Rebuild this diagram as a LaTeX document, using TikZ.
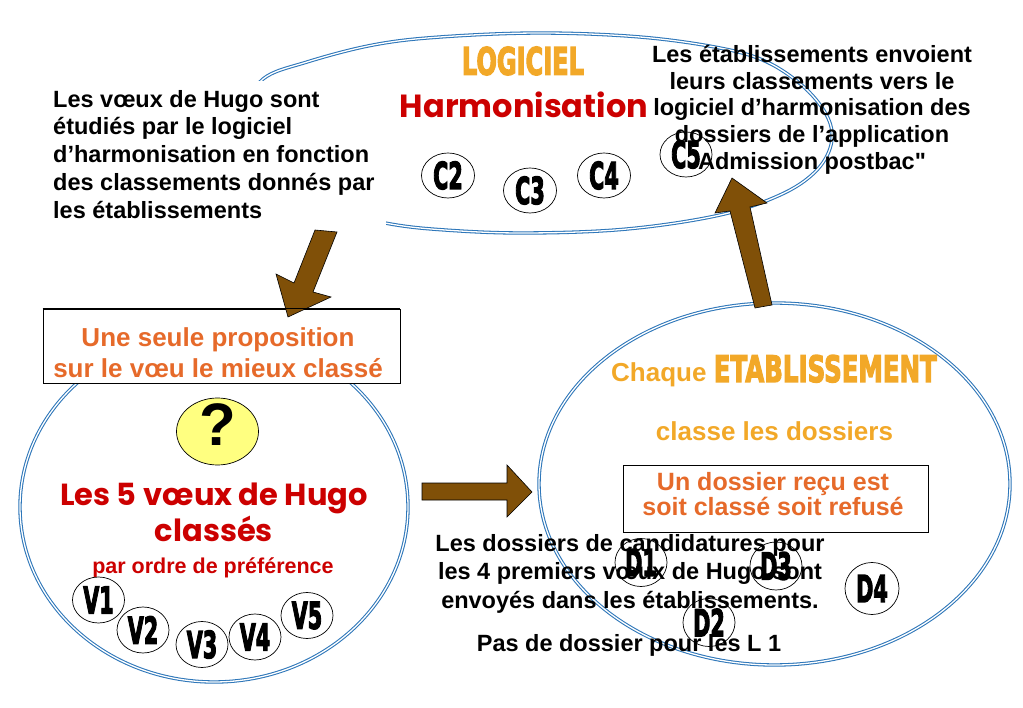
\documentclass[tikz,border=0pt]{standalone}
\usepackage{fontspec}
\usepackage{graphicx}
\setmainfont{Liberation Sans}
\newfontfamily\gothic{Poppins}
\newfontfamily\heavy{DejaVu Sans}[BoldFeatures={FakeBold=4}]
\usetikzlibrary{shapes.geometric}
\definecolor{ellblue}{RGB}{45,118,185}
\definecolor{arrowbrown}{RGB}{128,80,8}
\definecolor{orangeA}{RGB}{230,106,42}
\definecolor{goldY}{RGB}{242,168,40}
\definecolor{redH}{RGB}{204,0,0}
\definecolor{yellowQ}{RGB}{255,255,128}
\newcommand\imp[1]{\scalebox{0.56}[1]{\heavy\bfseries #1}}
\newcommand\straightquote{{\addfontfeatures{Ligatures=TeXOff}"}}
\tikzset{
  dbl/.style={draw=ellblue, line width=1.05pt, double=white, double distance=1.3pt},
  bigell/.style={ellipse, dbl, inner sep=0pt},
  blockarrow/.style={fill=arrowbrown, draw=black, line width=0.6pt, line join=miter},
  tag/.style={ellipse, draw=black, line width=0.7pt, fill=white, minimum width=52pt,
    minimum height=46pt, inner sep=0pt, font=\fontsize{37}{37}\selectfont},
  blacktxt/.style={inner sep=0pt, text=black},
  bodyfont/.style={font=\fontsize{23.5}{27.75}\selectfont\bfseries},
  orangetxt/.style={inner sep=0pt, text=orangeA, font=\fontsize{26}{31}\selectfont\bfseries},
  goldtxt/.style={inner sep=0pt, text=goldY, font=\fontsize{26}{31}\selectfont\bfseries},
  framebox/.style={draw=black, line width=0.7pt, fill=white, inner sep=0pt},
}
\begin{document}
\begin{tikzpicture}[x=1pt, y=-1pt]
\useasboundingbox (0,0) rectangle (1023,708);
\fill[white] (0,0) rectangle (1023,708);

% top ellipse (logiciel)
\draw[dbl] plot[smooth cycle, tension=0.6] coordinates {
  (246,112) (263,79) (307,62) (373,45) (440,37) (540,33) (640,37) (720,48)
  (767,62) (805,88) (828,118) (831,145) (815,172) (780,195) (720,215)
  (627,229) (527,233) (445,230) (385,223) (310,205) (262,172) (244,142)};

% white text box over the left of the top ellipse
\fill[white] (40,81) rectangle (386,232);
\node[blacktxt, bodyfont, align=left, anchor=north west] (hugotxt) at (53,90)
  {Les vœux de Hugo sont\\étudiés par le logiciel\\d’harmonisation en fonction\\des classements donnés par\\les établissements};

% left and right ellipses
\node[bigell, minimum width=388pt, minimum height=350pt] (voeux) at (214,507) {};
\node[bigell, minimum width=471pt, minimum height=362pt] (etab) at (774.5,484) {};

% box: une seule proposition
\node[framebox, minimum width=357pt, minimum height=74pt] (propbox) at (221.5,346) {};
\node[orangetxt, align=center, anchor=north] (proptxt) at (218,327.5)
  {Une seule proposition\\sur le vœu le mieux classé};

% block arrows
\filldraw[blockarrow] (315,230) -- (337,232) -- (313,292) -- (331,297) -- (288,317) -- (276,274) -- (294,283) -- cycle;
\draw[line width=0.7pt] (propbox.north west) -- (propbox.north east);
\filldraw[blockarrow] (755,308) -- (772,305) -- (750,207) -- (767,203) -- (732,178) -- (715,213) -- (730,211) -- cycle;
\filldraw[blockarrow] (422,483) -- (507,483) -- (507,465) -- (532,492) -- (507,517) -- (507,500) -- (422,500) -- cycle;

% logiciel titles
\node[inner sep=0pt, text=goldY] (logi) at (523,61) {\resizebox{122pt}{28pt}{\heavy\bfseries LOGICIEL}};
\node[inner sep=0pt, text=redH, anchor=base] (harmo) at (524,118) {\resizebox{248pt}{!}{\gothic\bfseries Harmonisation}};

% C tags
\node[tag, minimum width=53pt, minimum height=45pt] (c2) at (448,175.5) {\imp{C2}};
\node[tag, minimum width=53pt, minimum height=45pt] (c3) at (530,190.5) {\imp{C3}};
\node[tag, minimum width=53pt, minimum height=45pt] (c4) at (604,175.5) {\imp{C4}};
\node[tag, minimum width=52pt, minimum height=45pt] (c5) at (686,154.5) {\imp{C5}};

% top right text
\node[blacktxt, font=\fontsize{23.5}{26.7}\selectfont\bfseries, align=center, anchor=north] (envtxt) at (812,45)
  {Les établissements envoient\\leurs classements vers le\\logiciel d’harmonisation des\\dossiers de l’application\\Admission postbac\straightquote};

% question ball
\node[ellipse, draw=black, line width=0.7pt, fill=yellowQ, minimum width=82pt, minimum height=67pt, inner sep=0pt] (q) at (217.5,431.5) {};
\node[inner sep=0pt, font=\fontsize{60}{60}\selectfont\bfseries] (qmark) at (218,425) {?};

% left ellipse texts
\node[inner sep=0pt, text=redH, anchor=base, font=\fontsize{30.5}{36}\gothic\bfseries] (v5txt) at (214,505) {Les 5 vœux de Hugo};
\node[inner sep=0pt, text=redH, anchor=base, font=\fontsize{30.5}{36}\gothic\bfseries] (classes) at (214,541) {classés};
\node[inner sep=0pt, text=redH, anchor=base, font=\fontsize{21.5}{26}\selectfont\bfseries] (ordre) at (213,573) {par ordre de préférence};

% V tags
\node[tag] (v1) at (98.5,600) {\imp{V1}};
\node[tag] (v2) at (143,630) {\imp{V2}};
\node[tag] (v3) at (202,644.5) {\imp{V3}};
\node[tag] (v4) at (255,637) {\imp{V4}};
\node[tag] (v5) at (307,615.5) {\imp{V5}};

% right ellipse texts
\node[goldtxt, anchor=base west] (chaque) at (611,382)
  {Chaque \resizebox{223pt}{27pt}{\heavy\bfseries ETABLISSEMENT}};
\node[goldtxt, anchor=base] (classe) at (774.5,441) {classe les dossiers};
\node[framebox, minimum width=305pt, minimum height=67pt] (recubox) at (775.5,498.5) {};
\node[orangetxt, font=\fontsize{25}{22.5}\selectfont\bfseries, align=center, anchor=north] (recutxt) at (773,472.5)
  {Un dossier reçu est\\soit classé soit refusé};

% D tags
\node[tag, minimum height=48pt] (d1) at (641,562.5) {\imp{D1}};
\node[tag, minimum height=48pt] (d3) at (776,566) {\imp{D3}};
\node[tag, minimum width=54pt, minimum height=52pt] (d4) at (872,588.5) {\imp{D4}};
\node[tag, minimum height=48pt] (d2) at (709,622.5) {\imp{D2}};

% bottom text
\node[blacktxt, font=\fontsize{23.5}{28.2}\selectfont\bfseries, align=center, anchor=north] (dosstxt) at (630,534.5)
  {Les dossiers de candidatures pour\\les 4 premiers vœux de Hugo sont\\envoyés dans les établissements.};
\node[blacktxt, bodyfont, anchor=base] (pasdoss) at (629,651.5) {Pas de dossier pour les L 1};
\end{tikzpicture}
\end{document}
